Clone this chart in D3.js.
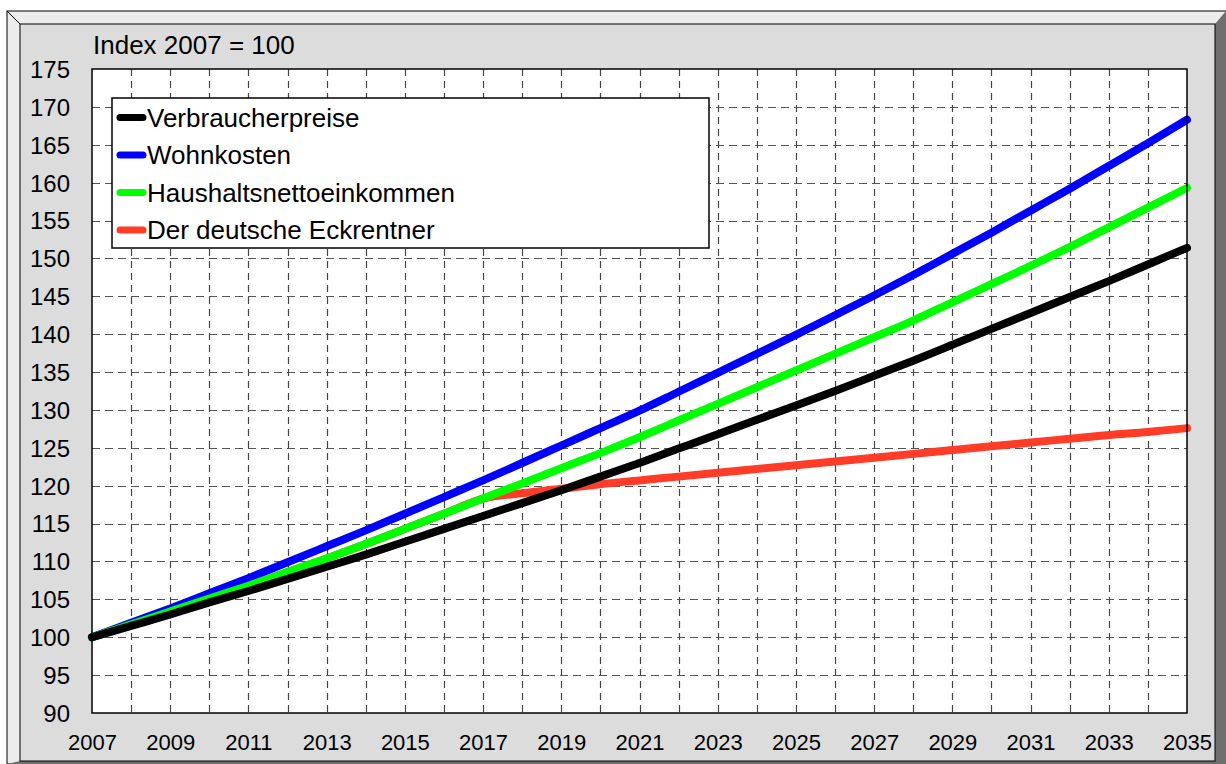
<!DOCTYPE html>
<html>
<head>
<meta charset="utf-8">
<script src="https://cdn.jsdelivr.net/npm/d3@7"></script>
<style>
  body { margin: 0; background: #fff; }
  text { font-family: "Liberation Sans", Arial, sans-serif; fill: #000; }
</style>
</head>
<body>
<div id="vis"></div>
<script>
// years on the x axis
var years = [2007, 2008, 2009, 2010, 2011, 2012, 2013, 2014, 2015, 2016,
  2017, 2018, 2019, 2020, 2021, 2022, 2023, 2024, 2025, 2026,
  2027, 2028, 2029, 2030, 2031, 2032, 2033, 2034, 2035];

// index values, 2007 = 100
var verbraucherpreise = [100, 101.5, 103.0, 104.6, 106.1, 107.7, 109.3, 110.9, 112.6, 114.3,
  116.0, 117.7, 119.4, 121.2, 123.0, 124.9, 126.8, 128.7, 130.6, 132.5,
  134.5, 136.5, 138.6, 140.7, 142.8, 144.9, 147.0, 149.2, 151.4];
var wohnkosten = [100, 101.9, 103.8, 105.8, 107.8, 109.9, 112.0, 114.1, 116.3, 118.5,
  120.7, 123.0, 125.3, 127.6, 129.9, 132.4, 134.9, 137.4, 139.9, 142.5,
  145.1, 147.8, 150.6, 153.4, 156.3, 159.2, 162.2, 165.2, 168.3];
var haushaltsnetto = [100, 101.7, 103.4, 105.1, 106.8, 108.6, 110.4, 112.3, 114.3, 116.3,
  118.3, 120.3, 122.3, 124.3, 126.4, 128.6, 130.8, 133.0, 135.2, 137.4,
  139.6, 141.8, 144.2, 146.6, 149.0, 151.5, 154.1, 156.7, 159.3];
var eckrentner = [100, 101.7, 103.4, 105.1, 106.8, 108.6, 110.4, 112.3, 114.3, 116.3,
  118.3, 119.0, 119.6, 120.2, 120.7, 121.2, 121.7, 122.2, 122.7, 123.2,
  123.7, 124.2, 124.7, 125.2, 125.7, 126.2, 126.7, 127.1, 127.6];

var seriesNames = ["Verbraucherpreise", "Wohnkosten", "Haushaltsnettoeinkommen", "Der deutsche Eckrentner"];
var seriesColors = ["#000000", "#0000ff", "#00ff00", "#ff3c28"];
var seriesValues = [verbraucherpreise, wohnkosten, haushaltsnetto, eckrentner];

var yTicks = [90, 95, 100, 105, 110, 115, 120, 125, 130, 135, 140, 145, 150, 155, 160, 165, 170, 175];
var xTicks = [2007, 2009, 2011, 2013, 2015, 2017, 2019, 2021, 2023, 2025, 2027, 2029, 2031, 2033, 2035];
var titleText = "Index 2007 = 100";

var W = 1226, H = 764;
var plot = {left: 92, right: 1187, top: 69, bottom: 713};

var svg = d3.select("#vis").append("svg")
  .attr("width", W)
  .attr("height", H);

// beveled frame
svg.append("rect").attr("x", 7).attr("y", 11).attr("width", W - 7).attr("height", H - 11)
  .attr("fill", "#ececec").attr("stroke", "#000").attr("stroke-width", 1);
svg.append("polygon")
  .attr("points", [[1215, 24], [W, 11], [W, H], [7, H], [20, 761], [1215, 761]].join(" "))
  .attr("fill", "#6e6e6e");
svg.append("line").attr("x1", 7).attr("y1", 11).attr("x2", 20).attr("y2", 24)
  .attr("stroke", "#000").attr("stroke-width", 1);
svg.append("rect").attr("x", 20).attr("y", 24).attr("width", 1215 - 20).attr("height", 761 - 24)
  .attr("fill", "#dcdcdc").attr("stroke", "#000").attr("stroke-width", 1);

var x = d3.scaleLinear().domain([2007, 2035]).range([plot.left, plot.right]);
var y = d3.scaleLinear().domain([90, 175]).range([plot.bottom, plot.top]);

// plot area
svg.append("rect")
  .attr("x", plot.left).attr("y", plot.top)
  .attr("width", plot.right - plot.left).attr("height", plot.bottom - plot.top)
  .attr("fill", "#fff");

// dashed grid
svg.append("g").selectAll("line")
  .data(years.slice(1, -1))
  .enter().append("line")
    .attr("x1", d => Math.round(x(d)) + 0.5).attr("x2", d => Math.round(x(d)) + 0.5)
    .attr("y1", plot.top).attr("y2", plot.bottom)
    .attr("stroke", "#444").attr("stroke-width", 1.2)
    .attr("stroke-dasharray", "7,5");
svg.append("g").selectAll("line")
  .data(yTicks.slice(1, -1))
  .enter().append("line")
    .attr("x1", plot.left).attr("x2", plot.right)
    .attr("y1", d => Math.round(y(d)) + 0.5).attr("y2", d => Math.round(y(d)) + 0.5)
    .attr("stroke", "#555").attr("stroke-width", 1.2)
    .attr("stroke-dasharray", "8,5");

// axes (labels only)
var yAxis = svg.append("g")
  .attr("transform", "translate(" + (plot.left - 22) + ",0)")
  .call(d3.axisLeft(y).tickValues(yTicks).tickSize(0).tickPadding(0).tickFormat(d3.format("d")));
yAxis.select(".domain").remove();
yAxis.selectAll("text").style("font-size", "24px").attr("dy", "0.35em");

var xAxis = svg.append("g")
  .attr("transform", "translate(0," + (plot.bottom + 21) + ")")
  .call(d3.axisBottom(x).tickValues(xTicks).tickSize(0).tickPadding(0).tickFormat(d3.format("d")));
xAxis.select(".domain").remove();
xAxis.selectAll("text").style("font-size", "22px").attr("dy", "0.71em");

// lines, drawn from bottom to top: red, blue, green, black
var line = d3.line()
  .x((d, i) => x(years[i]))
  .y(d => y(d))
  .curve(d3.curveMonotoneX);

[3, 1, 2, 0].forEach(function(k) {
  svg.append("path")
    .datum(seriesValues[k])
    .attr("d", line)
    .attr("fill", "none")
    .attr("stroke", seriesColors[k])
    .attr("stroke-width", 8)
    .attr("stroke-linecap", "round")
    .attr("stroke-linejoin", "round");
});

// plot border
svg.append("rect")
  .attr("x", plot.left).attr("y", plot.top)
  .attr("width", plot.right - plot.left).attr("height", plot.bottom - plot.top)
  .attr("fill", "none").attr("stroke", "#000").attr("stroke-width", 1.5);

// title
svg.append("text")
  .attr("x", 93).attr("y", 54)
  .style("font-size", "26px")
  .text(titleText);

// legend
var legend = svg.append("g");
legend.append("rect")
  .attr("x", 112).attr("y", 98).attr("width", 597).attr("height", 150)
  .attr("fill", "#fff").attr("stroke", "#000").attr("stroke-width", 1.5);

var item = legend.selectAll("g.item")
  .data(seriesNames)
  .enter().append("g")
    .attr("class", "item")
    .attr("transform", (d, i) => "translate(0," + (117.5 + i * 37.5) + ")");

item.append("line")
  .attr("x1", 120).attr("x2", 143)
  .attr("y1", 0).attr("y2", 0)
  .attr("stroke", (d, i) => seriesColors[i])
  .attr("stroke-width", 7)
  .attr("stroke-linecap", "round");

item.append("text")
  .attr("x", 147).attr("y", 9)
  .style("font-size", "26px")
  .text(d => d);
</script>
</body>
</html>
